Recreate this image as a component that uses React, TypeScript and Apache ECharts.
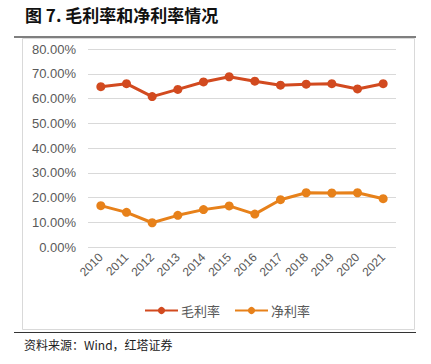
import React, { useEffect, useRef } from "react";
import * as echarts from "echarts";

const years = ["2010", "2011", "2012", "2013", "2014", "2015", "2016", "2017", "2018", "2019", "2020", "2021"];
const grossMargin = [64.8, 66.0, 60.8, 63.7, 66.7, 68.8, 67.0, 65.4, 65.8, 66.0, 63.9, 66.0];
const netMargin = [16.8, 14.1, 9.9, 12.9, 15.2, 16.7, 13.4, 19.2, 22.0, 21.9, 22.0, 19.6];
const seriesNames = ["毛利率", "净利率"];
const titleText = "图 7. 毛利率和净利率情况";
const sourceText = "资料来源：Wind，红塔证券";

export default function App() {
  const ref = useRef<HTMLDivElement>(null);
  useEffect(() => {
    const chart = echarts.init(ref.current!, null, { renderer: "svg" });
    const font = "Arial, 'Liberation Sans', 'Noto Sans CJK SC', sans-serif";
    chart.setOption({
      animation: false,
      backgroundColor: "#ffffff",
      textStyle: { fontFamily: font },
      graphic: [
        { type: "rect", shape: { x: 22.5, y: 38.5, width: 392, height: 291 }, style: { fill: "none", stroke: "#d9d9d9", lineWidth: 1 }, z: 0 },
        { type: "line", shape: { x1: 14, y1: 37, x2: 416, y2: 37 }, style: { stroke: "#555555", lineWidth: 1.5 } },
        { type: "line", shape: { x1: 14, y1: 332.5, x2: 416, y2: 332.5 }, style: { stroke: "#333333", lineWidth: 1 } },
        { type: "text", x: 25, y: 6, style: { text: titleText, font: "bold 17px 'Noto Sans CJK SC', Arial, sans-serif", fill: "#111111" } },
        { type: "text", x: 24, y: 338, style: { text: sourceText, font: "12px 'Noto Sans CJK SC', Arial, sans-serif", fill: "#222222" } },
      ],
      legend: {
        top: 299,
        left: 139,
        itemWidth: 33,
        itemHeight: 9,
        itemGap: 14,
        textStyle: { color: "#595959", fontSize: 13, fontFamily: "'Noto Sans CJK SC', sans-serif", padding: [0, 0, 0, -2] },
        data: seriesNames,
      },
      grid: { left: 88, right: 35, top: 49, bottom: 116.7, containLabel: false },
      xAxis: {
        type: "category",
        data: years,
        boundaryGap: true,
        axisLine: { show: false },
        axisTick: { show: false },
        axisLabel: { rotate: 45, color: "#595959", fontSize: 12, margin: 8, interval: 0 },
      },
      yAxis: {
        type: "value",
        min: 0,
        max: 80,
        interval: 10,
        axisLine: { show: false },
        axisTick: { show: false },
        splitLine: { lineStyle: { color: "#d9d9d9", width: 1 } },
        axisLabel: { color: "#595959", fontSize: 13, margin: 12, formatter: (v: number) => v.toFixed(2) + "%" },
      },
      series: [
        {
          name: seriesNames[0],
          type: "line",
          data: grossMargin,
          symbol: "circle",
          symbolSize: 9,
          color: "#d24a1f",
          lineStyle: { width: 3, color: "#d24a1f" },
          itemStyle: { color: "#d24a1f" },
        },
        {
          name: seriesNames[1],
          type: "line",
          data: netMargin,
          symbol: "circle",
          symbolSize: 9,
          color: "#e7811a",
          lineStyle: { width: 3, color: "#e7811a" },
          itemStyle: { color: "#e7811a" },
        },
      ],
    });
    return () => chart.dispose();
  }, []);
  return <div ref={ref} style={{ position: "fixed", left: 0, top: 0, width: 431, height: 364 }} />;
}
